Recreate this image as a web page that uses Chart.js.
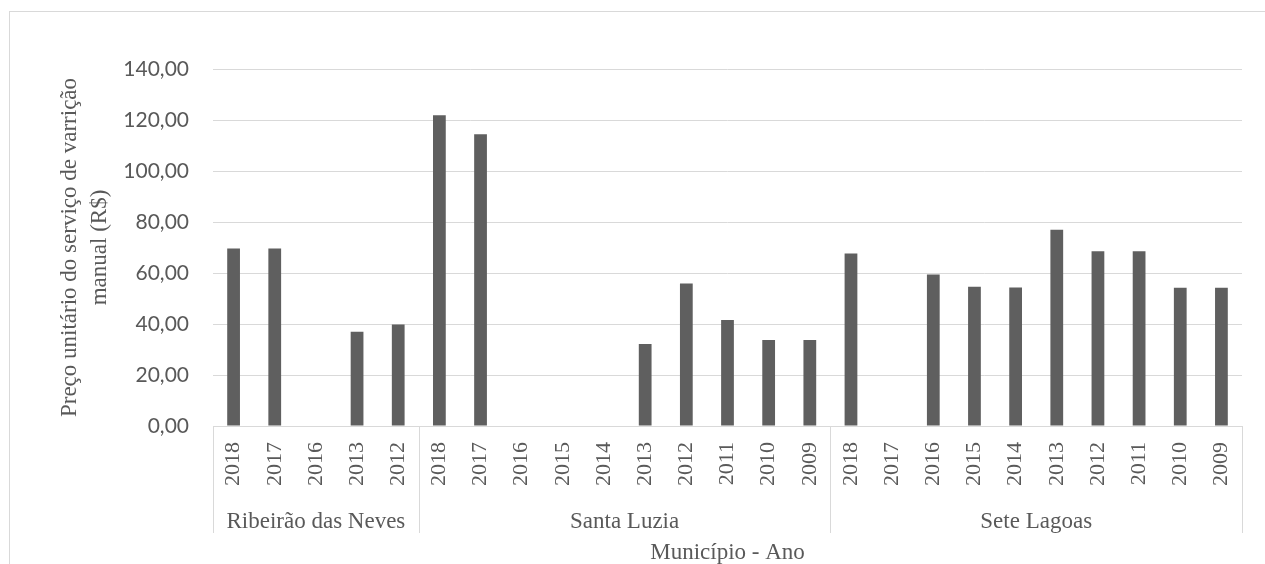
<!DOCTYPE html>
<html>
<head>
<meta charset="utf-8">
<script src="https://cdn.jsdelivr.net/npm/chart.js@4/dist/chart.umd.min.js"></script>
<style>
  html, body { margin: 0; padding: 0; background: #ffffff; overflow: hidden; }
  #c { display: block; }
</style>
</head>
<body>
<canvas id="c" width="1265" height="564"></canvas>
<script>
// ---- data ----
const groupNames = ['Ribeirão das Neves', 'Santa Luzia', 'Sete Lagoas'];
const yearsRibeirao = ['2018', '2017', '2016', '2013', '2012'];
const yearsSantaLuzia = ['2018', '2017', '2016', '2015', '2014', '2013', '2012', '2011', '2010', '2009'];
const yearsSeteLagoas = ['2018', '2017', '2016', '2015', '2014', '2013', '2012', '2011', '2010', '2009'];
const valuesRibeirao = [69.6, 69.6, null, 37.0, 39.8];
const valuesSantaLuzia = [121.9, 114.4, null, null, null, 32.2, 55.9, 41.6, 33.7, 33.7];
const valuesSeteLagoas = [67.6, null, 59.4, 54.6, 54.3, 77.0, 68.5, 68.5, 54.2, 54.2];
const yTicks = [0, 20, 40, 60, 80, 100, 120, 140];
const yTitle = ['Preço unitário do serviço de varrição', 'manual (R$)'];
const xTitle = 'Município - Ano';

// ---- derived ----
const groupYears = [yearsRibeirao, yearsSantaLuzia, yearsSeteLagoas];
const labels = [].concat(yearsRibeirao, yearsSantaLuzia, yearsSeteLagoas);
const values = [].concat(valuesRibeirao, valuesSantaLuzia, valuesSeteLagoas);

const SERIF = '"Liberation Serif", "Times New Roman", serif';
const SANS = 'Lato, "Open Sans", sans-serif';
const TEXT = '#595959';
const GRID = '#d9d9d9';

const framePlugin = {
  id: 'frame',
  beforeDraw(chart) {
    const ctx = chart.ctx;
    ctx.save();
    ctx.fillStyle = '#ffffff';
    ctx.fillRect(0, 0, chart.width, chart.height);
    ctx.strokeStyle = GRID;
    ctx.lineWidth = 1;
    ctx.strokeRect(9.5, 11.5, chart.width + 20, chart.height + 20);
    ctx.restore();
  }
};

const groupAxisPlugin = {
  id: 'groupAxis',
  afterDraw(chart) {
    const ctx = chart.ctx;
    const xs = chart.scales.x;
    const top = chart.chartArea.bottom;
    ctx.save();
    ctx.strokeStyle = GRID;
    ctx.lineWidth = 1;
    let start = 0;
    const bounds = [start];
    groupYears.forEach(g => { start += g.length; bounds.push(start); });
    bounds.forEach(b => {
      const px = Math.round(xs.getPixelForValue(b - 0.5)) + 0.5;
      ctx.beginPath();
      ctx.moveTo(px, top);
      ctx.lineTo(px, 533);
      ctx.stroke();
    });
    ctx.fillStyle = TEXT;
    ctx.font = '23px ' + SERIF;
    ctx.textAlign = 'center';
    ctx.textBaseline = 'middle';
    groupNames.forEach((name, i) => {
      const a = xs.getPixelForValue(bounds[i] - 0.5);
      const b = xs.getPixelForValue(bounds[i + 1] - 0.5);
      ctx.fillText(name, (a + b) / 2, 522);
    });
    ctx.restore();
  }
};

new Chart(document.getElementById('c'), {
  type: 'bar',
  data: {
    labels: labels,
    datasets: [{
      data: values,
      backgroundColor: '#5f5f5f',
      borderWidth: 0,
      categoryPercentage: 1.0,
      barPercentage: 0.31
    }]
  },
  plugins: [framePlugin, groupAxisPlugin],
  options: {
    responsive: false,
    animation: false,
    devicePixelRatio: 1,
    layout: { padding: { left: 0, right: 23, top: 69, bottom: 0 } },
    plugins: { legend: { display: false }, tooltip: { enabled: false } },
    scales: {
      x: {
        type: 'category',
        grid: { display: false, drawTicks: false },
        border: { display: true, color: GRID, width: 1 },
        ticks: {
          autoSkip: false,
          minRotation: 90,
          maxRotation: 90,
          padding: 16,
          color: TEXT,
          font: { family: SERIF, size: 22 }
        },
        title: {
          display: true,
          text: xTitle,
          color: TEXT,
          font: { family: SERIF, size: 23, lineHeight: 1.0 },
          padding: { top: 0, bottom: 0 }
        },
        afterFit(scale) { scale.height = 138; }
      },
      y: {
        min: 0,
        max: 140,
        afterBuildTicks(scale) { scale.ticks = yTicks.map(v => ({ value: v })); },
        grid: { color: GRID, lineWidth: 1, drawTicks: false },
        border: { display: false },
        ticks: {
          padding: 24,
          color: TEXT,
          font: { family: SANS, size: 21 },
          callback: v => v.toFixed(2).replace('.', ',')
        },
        title: {
          display: true,
          text: yTitle,
          color: TEXT,
          font: { family: SERIF, size: 23, lineHeight: 1.3 },
          padding: { top: 55, bottom: 0 }
        },
        afterFit(scale) { scale.width = 213; }
      }
    }
  }
});
</script>
</body>
</html>
